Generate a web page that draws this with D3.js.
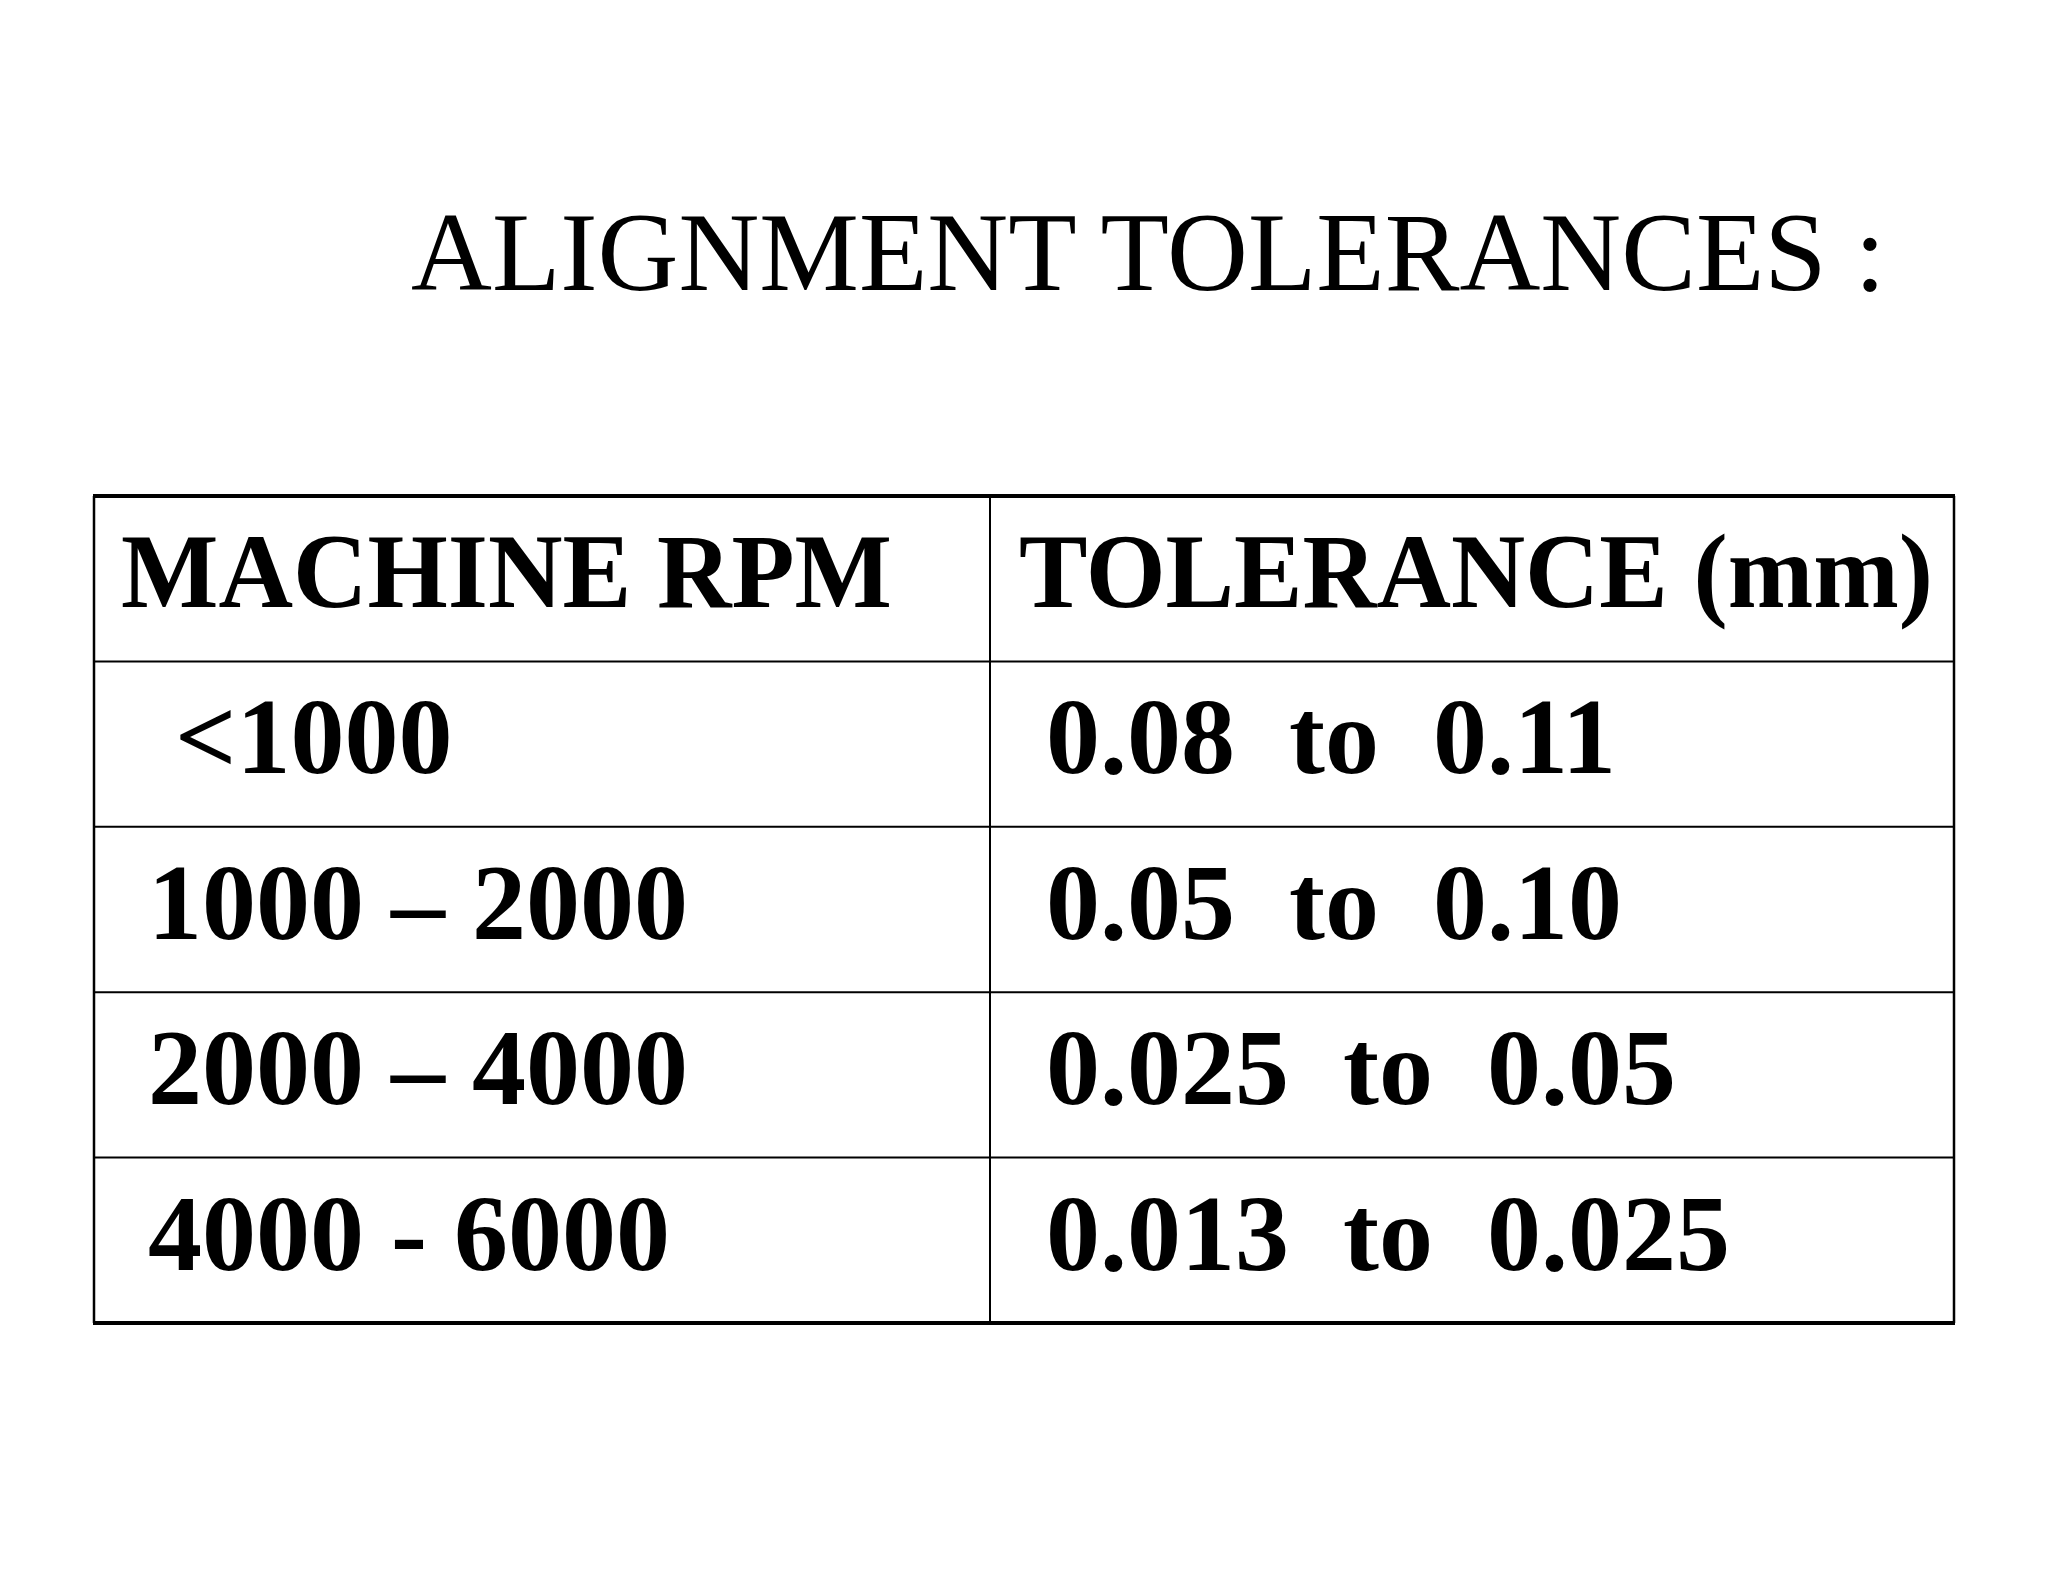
<!DOCTYPE html>
<html><head><meta charset="utf-8">
<script src="https://cdn.jsdelivr.net/npm/d3@7"></script>
<style>body{margin:0;background:#fff}svg text{white-space:pre}</style>
</head><body><svg id="c" width="2048" height="1582"></svg>
<script>
const title = "ALIGNMENT TOLERANCES :";
const headers = ["MACHINE RPM", "TOLERANCE (mm)"];
const rpm = ["  <1000", " 1000 \u2013 2000", " 2000 \u2013 4000", " 4000 - 6000"];
const tolerance = [" 0.08  to  0.11", " 0.05  to  0.10", " 0.025  to  0.05", " 0.013  to  0.025"];

const svg = d3.select("#c");
const F = "'Liberation Serif','Times New Roman',serif";
svg.append("text").attr("x", 411).attr("y", 290).attr("font-family", F)
  .attr("font-size", 112).attr("fill", "#000").text(title);

const rows = ["h", 0, 1, 2, 3];
const y = d3.scaleBand().domain(rows).range([496, 1323]);
const cols = [0, 1];
const x = d3.scaleBand().domain(cols).range([94, 1954]);
const split = 990;
const g = svg.append("g");
// inner lines
rows.slice(1).forEach(r => g.append("line").attr("x1", 94).attr("x2", 1954)
  .attr("y1", y(r)).attr("y2", y(r)).attr("stroke", "#000").attr("stroke-width", 2));
g.append("line").attr("x1", split).attr("x2", split).attr("y1", 496).attr("y2", 1323)
  .attr("stroke", "#000").attr("stroke-width", 2);
g.append("line").attr("x1", 94).attr("x2", 94).attr("y1", 496).attr("y2", 1323).attr("stroke", "#000").attr("stroke-width", 2.5);
g.append("line").attr("x1", 1954).attr("x2", 1954).attr("y1", 496).attr("y2", 1323).attr("stroke", "#000").attr("stroke-width", 2.5);
g.append("line").attr("x1", 93).attr("x2", 1955).attr("y1", 496).attr("y2", 496).attr("stroke", "#000").attr("stroke-width", 4);
g.append("line").attr("x1", 93).attr("x2", 1955).attr("y1", 1323).attr("y2", 1323).attr("stroke", "#000").attr("stroke-width", 4);

const colX = [121, 1019];
const valX = [121, 1019];
headers.forEach((h, i) => g.append("text").attr("x", colX[i]).attr("y", y("h") + 111)
  .attr("font-family", F).attr("font-weight", "bold").attr("font-size", 106)
  .attr("textLength", i === 0 ? 771 : 914).attr("lengthAdjust", "spacingAndGlyphs").text(h));
rpm.forEach((v, i) => g.append("text").attr("x", valX[0]).attr("y", y(i) + 112)
  .attr("font-family", F).attr("font-weight", "bold").attr("font-size", 108).text(v));
tolerance.forEach((v, i) => g.append("text").attr("x", valX[1]).attr("y", y(i) + 112)
  .attr("font-family", F).attr("font-weight", "bold").attr("font-size", 108).text(v));
</script></body></html>
